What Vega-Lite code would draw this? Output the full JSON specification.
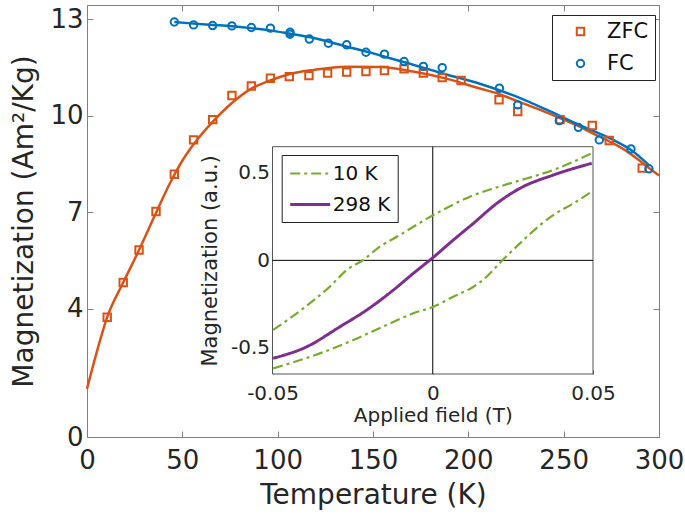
{
  "$schema": "https://vega.github.io/schema/vega-lite/v6.json",
  "width": 572,
  "height": 432,
  "autosize": {"type": "none"},
  "padding": {"left": 87, "top": 5, "right": 26, "bottom": 84},
  "background": "white",
  "config": {
    "font": "DejaVu Sans",
    "view": {"stroke": "#808080", "strokeWidth": 1},
    "axis": {
      "labelFont": "DejaVu Sans",
      "titleFont": "DejaVu Sans",
      "labelColor": "#262626",
      "titleColor": "#262626",
      "titleFontWeight": "normal",
      "domain": false,
      "grid": false,
      "tickColor": "#808080",
      "labelFlush": false,
      "labelOverlap": false
    },
    "legend": {"labelFont": "DejaVu Sans", "labelColor": "#111", "columnPadding": 0}
  },
  "datasets": {
    "pts": [
      {"T": 10.6, "M": 3.73, "s": "ZFC"}, {"T": 19.0, "M": 4.81, "s": "ZFC"}, {"T": 27.3, "M": 5.82, "s": "ZFC"},
      {"T": 36.2, "M": 7.02, "s": "ZFC"}, {"T": 45.8, "M": 8.18, "s": "ZFC"}, {"T": 55.9, "M": 9.25, "s": "ZFC"},
      {"T": 65.9, "M": 9.88, "s": "ZFC"}, {"T": 76.0, "M": 10.63, "s": "ZFC"}, {"T": 86.2, "M": 10.93, "s": "ZFC"},
      {"T": 96.2, "M": 11.17, "s": "ZFC"}, {"T": 106.1, "M": 11.22, "s": "ZFC"}, {"T": 116.4, "M": 11.25, "s": "ZFC"},
      {"T": 126.2, "M": 11.33, "s": "ZFC"}, {"T": 136.2, "M": 11.36, "s": "ZFC"}, {"T": 146.3, "M": 11.38, "s": "ZFC"},
      {"T": 156.0, "M": 11.41, "s": "ZFC"}, {"T": 166.3, "M": 11.46, "s": "ZFC"}, {"T": 176.4, "M": 11.33, "s": "ZFC"},
      {"T": 186.3, "M": 11.19, "s": "ZFC"}, {"T": 196.2, "M": 11.10, "s": "ZFC"}, {"T": 216.1, "M": 10.50, "s": "ZFC"},
      {"T": 225.9, "M": 10.13, "s": "ZFC"}, {"T": 248.1, "M": 9.88, "s": "ZFC"}, {"T": 265.0, "M": 9.70, "s": "ZFC"},
      {"T": 273.9, "M": 9.23, "s": "ZFC"}, {"T": 291.2, "M": 8.37, "s": "ZFC"},
      {"T": 45.8, "M": 12.92, "s": "FC"}, {"T": 55.9, "M": 12.83, "s": "FC"}, {"T": 65.9, "M": 12.81, "s": "FC"},
      {"T": 76.0, "M": 12.80, "s": "FC"}, {"T": 86.2, "M": 12.75, "s": "FC"}, {"T": 96.2, "M": 12.73, "s": "FC"},
      {"T": 106.5, "M": 12.60, "s": "FC"}, {"T": 106.5, "M": 12.54, "s": "FC"}, {"T": 116.6, "M": 12.39, "s": "FC"},
      {"T": 126.6, "M": 12.26, "s": "FC"}, {"T": 136.2, "M": 12.21, "s": "FC"}, {"T": 146.3, "M": 11.98, "s": "FC"},
      {"T": 156.0, "M": 11.92, "s": "FC"}, {"T": 166.3, "M": 11.69, "s": "FC"}, {"T": 176.4, "M": 11.54, "s": "FC"},
      {"T": 186.3, "M": 11.50, "s": "FC"}, {"T": 216.3, "M": 10.86, "s": "FC"}, {"T": 225.9, "M": 10.34, "s": "FC"},
      {"T": 247.7, "M": 9.85, "s": "FC"}, {"T": 257.7, "M": 9.64, "s": "FC"}, {"T": 268.7, "M": 9.25, "s": "FC"},
      {"T": 285.3, "M": 8.97, "s": "FC"}, {"T": 294.7, "M": 8.35, "s": "FC"}
    ],
    "zfcfit": [
      {"T": 0, "M": 1.5}, {"T": 5, "M": 2.62}, {"T": 10.6, "M": 3.73}, {"T": 19, "M": 4.81}, {"T": 27.3, "M": 5.82},
      {"T": 36.2, "M": 6.98}, {"T": 43.5, "M": 7.9}, {"T": 50, "M": 8.6}, {"T": 56, "M": 9.12}, {"T": 66, "M": 9.82},
      {"T": 76, "M": 10.4}, {"T": 86, "M": 10.84}, {"T": 96, "M": 11.1}, {"T": 105, "M": 11.28}, {"T": 119, "M": 11.43},
      {"T": 136, "M": 11.53}, {"T": 154, "M": 11.52}, {"T": 171, "M": 11.38}, {"T": 189, "M": 11.15}, {"T": 206, "M": 10.85},
      {"T": 216, "M": 10.68}, {"T": 226, "M": 10.45}, {"T": 237, "M": 10.2}, {"T": 248, "M": 9.93}, {"T": 257, "M": 9.7},
      {"T": 265, "M": 9.46}, {"T": 274, "M": 9.2}, {"T": 283, "M": 8.9}, {"T": 291, "M": 8.55}, {"T": 300, "M": 8.14}
    ],
    "fcfit": [
      {"T": 45.8, "M": 12.92}, {"T": 56, "M": 12.87}, {"T": 66, "M": 12.83}, {"T": 76, "M": 12.79}, {"T": 86, "M": 12.73},
      {"T": 96, "M": 12.66}, {"T": 106, "M": 12.56}, {"T": 119, "M": 12.42}, {"T": 136, "M": 12.16}, {"T": 154, "M": 11.88},
      {"T": 171, "M": 11.59}, {"T": 189, "M": 11.28}, {"T": 206, "M": 11.0}, {"T": 223, "M": 10.65}, {"T": 241, "M": 10.19},
      {"T": 258, "M": 9.72}, {"T": 276, "M": 9.25}, {"T": 285, "M": 8.95}, {"T": 295, "M": 8.45}
    ],
    "loops": [
      {"F": -0.0498, "M": -0.398, "s": "10 K", "b": "up"}, {"F": -0.0404, "M": -0.275, "s": "10 K", "b": "up"},
      {"F": -0.0321, "M": -0.150, "s": "10 K", "b": "up"}, {"F": -0.0268, "M": -0.055, "s": "10 K", "b": "up"},
      {"F": -0.0217, "M": 0.002, "s": "10 K", "b": "up"}, {"F": -0.0165, "M": 0.078, "s": "10 K", "b": "up"},
      {"F": -0.0112, "M": 0.135, "s": "10 K", "b": "up"}, {"F": 0.0002, "M": 0.259, "s": "10 K", "b": "up"},
      {"F": 0.0116, "M": 0.364, "s": "10 K", "b": "up"}, {"F": 0.0241, "M": 0.44, "s": "10 K", "b": "up"},
      {"F": 0.0376, "M": 0.517, "s": "10 K", "b": "up"}, {"F": 0.0496, "M": 0.612, "s": "10 K", "b": "up"},
      {"F": -0.0498, "M": -0.618, "s": "10 K", "b": "lo"}, {"F": -0.0352, "M": -0.532, "s": "10 K", "b": "lo"},
      {"F": -0.0248, "M": -0.456, "s": "10 K", "b": "lo"}, {"F": -0.0144, "M": -0.370, "s": "10 K", "b": "lo"},
      {"F": -0.0061, "M": -0.303, "s": "10 K", "b": "lo"}, {"F": 0.0002, "M": -0.265, "s": "10 K", "b": "lo"},
      {"F": 0.0064, "M": -0.208, "s": "10 K", "b": "lo"}, {"F": 0.0127, "M": -0.151, "s": "10 K", "b": "lo"},
      {"F": 0.0168, "M": -0.094, "s": "10 K", "b": "lo"}, {"F": 0.021, "M": -0.013, "s": "10 K", "b": "lo"},
      {"F": 0.0272, "M": 0.097, "s": "10 K", "b": "lo"}, {"F": 0.0335, "M": 0.202, "s": "10 K", "b": "lo"},
      {"F": 0.0376, "M": 0.259, "s": "10 K", "b": "lo"}, {"F": 0.0439, "M": 0.326, "s": "10 K", "b": "lo"},
      {"F": 0.0496, "M": 0.393, "s": "10 K", "b": "lo"},
      {"F": -0.0498, "M": -0.560, "s": "298 K", "b": "p"}, {"F": -0.0393, "M": -0.494, "s": "298 K", "b": "p"},
      {"F": -0.0289, "M": -0.379, "s": "298 K", "b": "p"}, {"F": -0.0206, "M": -0.284, "s": "298 K", "b": "p"},
      {"F": -0.0123, "M": -0.170, "s": "298 K", "b": "p"}, {"F": -0.0061, "M": -0.075, "s": "298 K", "b": "p"},
      {"F": 0.0, "M": 0.015, "s": "298 K", "b": "p"}, {"F": 0.0064, "M": 0.116, "s": "298 K", "b": "p"},
      {"F": 0.0127, "M": 0.212, "s": "298 K", "b": "p"}, {"F": 0.020, "M": 0.326, "s": "298 K", "b": "p"},
      {"F": 0.0272, "M": 0.412, "s": "298 K", "b": "p"}, {"F": 0.0376, "M": 0.488, "s": "298 K", "b": "p"},
      {"F": 0.0496, "M": 0.555, "s": "298 K", "b": "p"}
    ]
  },
  "layer": [
    {
      "layer": [
        {
          "data": {"name": "zfcfit"},
          "mark": {"type": "line", "color": "#D95319", "strokeWidth": 2.5, "interpolate": "monotone"},
          "encoding": {
            "x": {"field": "T", "type": "quantitative", "scale": {"domain": [0, 300], "nice": false},
              "axis": {"orient": "bottom", "values": [0, 50, 100, 150, 200, 250, 300], "title": "Temperature (K)",
                "labelFontSize": 26, "titleFontSize": 28, "tickSize": -6, "labelPadding": 16, "titlePadding": 8}},
            "y": {"field": "M", "type": "quantitative", "scale": {"domain": [0, 13.45], "nice": false},
              "axis": {"orient": "left", "values": [0, 4, 7, 10, 13], "title": "Magnetization (Am²/Kg)",
                "labelFontSize": 26, "titleFontSize": 28, "tickSize": -6, "labelPadding": 10, "titlePadding": 11}}
          }
        },
        {
          "data": {"name": "fcfit"},
          "mark": {"type": "line", "color": "#0072BD", "strokeWidth": 2.5, "interpolate": "monotone"},
          "encoding": {
            "x": {"field": "T", "type": "quantitative", "axis": null},
            "y": {"field": "M", "type": "quantitative", "axis": null}
          }
        },
        {
          "data": {"name": "pts"},
          "mark": {"type": "point", "filled": false, "strokeWidth": 2, "size": 55, "opacity": 1},
          "encoding": {
            "x": {"field": "T", "type": "quantitative", "axis": null},
            "y": {"field": "M", "type": "quantitative", "axis": null},
            "color": {"field": "s", "type": "nominal", "scale": {"domain": ["ZFC", "FC"], "range": ["#D95319", "#0072BD"]},
              "legend": {"orient": "none", "legendX": 465, "legendY": 10, "title": null, "strokeColor": "#222", "fillColor": "white",
                "padding": 6, "symbolOffset": 12, "labelOffset": 16, "labelFontSize": 21, "rowPadding": 10, "symbolSize": 55, "symbolStrokeWidth": 2}},
            "shape": {"field": "s", "type": "nominal", "scale": {"domain": ["ZFC", "FC"], "range": ["square", "circle"]},
              "legend": {"orient": "none", "legendX": 465, "legendY": 10, "title": null, "strokeColor": "#222", "fillColor": "white",
                "padding": 6, "symbolOffset": 12, "labelOffset": 16, "labelFontSize": 21, "rowPadding": 10, "symbolSize": 55, "symbolStrokeWidth": 2}}
          }
        },
        {
          "data": {"name": "zfcfit"},
          "mark": {"type": "line", "opacity": 0},
          "encoding": {
            "x": {"field": "T", "type": "quantitative",
              "axis": {"orient": "top", "values": [0, 50, 100, 150, 200, 250, 300], "labels": false, "title": null, "tickSize": -6}},
            "y": {"field": "M", "type": "quantitative",
              "axis": {"orient": "right", "values": [0, 4, 7, 10, 13], "labels": false, "title": null, "tickSize": -6}}
          }
        }
      ],
      "resolve": {"axis": {"x": "independent", "y": "independent"}}
    },
    {
      "layer": [
        {
          "data": {"values": [{}]},
          "mark": {"type": "rect", "fill": "white", "stroke": "#555555", "strokeWidth": 1},
          "encoding": {
            "x": {"datum": -0.05, "type": "quantitative",
              "scale": {"domain": [-0.05, 0.05], "range": [185.5, 506], "nice": false, "zero": false},
              "axis": {"orient": "bottom", "offset": -63, "values": [-0.05, 0, 0.05], "title": "Applied field (T)", "format": ".2~f",
                "labelExpr": "replace(datum.label, '−', '-')",
                "labelFontSize": 20, "titleFontSize": 20, "tickSize": -4, "tickColor": "#555555", "labelPadding": 13, "titlePadding": 2}},
            "x2": {"datum": 0.05},
            "y": {"datum": -0.65, "type": "quantitative",
              "scale": {"domain": [-0.65, 0.65], "range": [369, 141.7], "nice": false, "zero": false},
              "axis": {"orient": "left", "offset": -185.5, "values": [-0.5, 0, 0.5], "title": "Magnetization (a.u.)", "format": ".1~f",
                "labelExpr": "replace(datum.label, '−', '-')",
                "labelFontSize": 20, "titleFontSize": 21, "tickSize": -4, "tickColor": "#555555", "labelPadding": 7, "titlePadding": 10}},
            "y2": {"datum": 0.65}
          }
        },
        {
          "data": {"values": [{}]},
          "mark": {"type": "rule", "color": "black", "strokeWidth": 1},
          "encoding": {
            "x": {"datum": 0, "type": "quantitative"},
            "y": {"datum": -0.65, "type": "quantitative"},
            "y2": {"datum": 0.65}
          }
        },
        {
          "data": {"values": [{}]},
          "mark": {"type": "rule", "color": "black", "strokeWidth": 1},
          "encoding": {
            "x": {"datum": -0.05, "type": "quantitative"},
            "x2": {"datum": 0.05},
            "y": {"datum": 0, "type": "quantitative"}
          }
        },
        {
          "data": {"name": "loops"},
          "mark": {"type": "line", "interpolate": "monotone"},
          "encoding": {
            "x": {"field": "F", "type": "quantitative"},
            "y": {"field": "M", "type": "quantitative"},
            "detail": {"field": "b"},
            "color": {"field": "s", "type": "nominal", "scale": {"domain": ["10 K", "298 K"], "range": ["#77AC30", "#7E2F8E"]},
              "legend": {"orient": "none", "legendX": 194.7, "legendY": 150, "title": null, "strokeColor": "#222", "fillColor": "white",
                "padding": 7, "symbolOffset": 0, "labelOffset": 21, "labelFontSize": 20, "rowPadding": 9, "symbolType": "M-1,0H3", "symbolSize": 400, "symbolStrokeWidth": 2.5}},
            "strokeDash": {"field": "s", "type": "nominal", "scale": {"domain": ["10 K", "298 K"], "range": [[10, 4, 3, 4], [1, 0]]},
              "legend": {"orient": "none", "legendX": 194.7, "legendY": 150, "title": null, "strokeColor": "#222", "fillColor": "white",
                "padding": 7, "symbolOffset": 0, "labelOffset": 21, "labelFontSize": 20, "rowPadding": 9, "symbolType": "M-1,0H3", "symbolSize": 400, "symbolStrokeWidth": 2.5}},
            "strokeWidth": {"field": "s", "type": "nominal", "scale": {"domain": ["10 K", "298 K"], "range": [2.2, 3]}, "legend": null}
          }
        }
      ]
    }
  ],
  "resolve": {
    "scale": {"x": "independent", "y": "independent", "color": "independent", "shape": "independent", "strokeDash": "independent", "strokeWidth": "independent"},
    "axis": {"x": "independent", "y": "independent"}
  }
}
